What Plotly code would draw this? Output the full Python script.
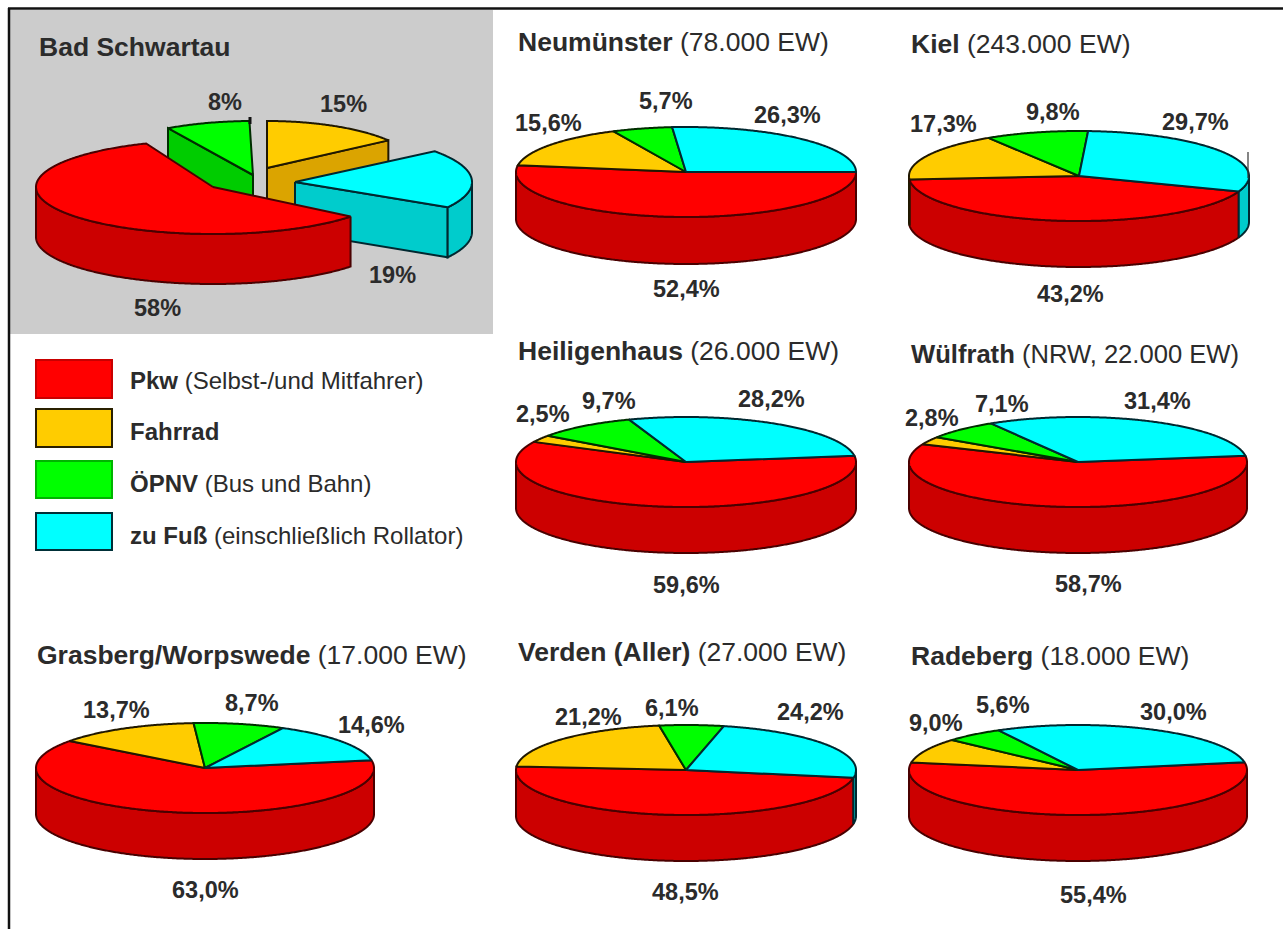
import numpy as np
import plotly.graph_objects as go

# Modal split per town, in percent; the slices run clockwise in this order.
towns = ["Bad Schwartau", "Neumünster", "Kiel", "Heiligenhaus", "Wülfrath",
         "Grasberg/Worpswede", "Verden (Aller)", "Radeberg"]
town_notes = ["", "(78.000 EW)", "(243.000 EW)", "(26.000 EW)", "(NRW, 22.000 EW)",
              "(17.000 EW)", "(27.000 EW)", "(18.000 EW)"]
pkw = [58, 52.4, 43.2, 59.6, 58.7, 63.0, 48.5, 55.4]
fahrrad = [15, 15.6, 17.3, 2.5, 2.8, 13.7, 21.2, 9.0]
oepnv = [8, 5.7, 9.8, 9.7, 7.1, 8.7, 6.1, 5.6]
zu_fuss = [19, 26.3, 29.7, 28.2, 31.4, 14.6, 24.2, 30.0]

legend_bold = ["Pkw", "Fahrrad", "ÖPNV", "zu Fuß"]
legend_note = ["(Selbst-/und Mitfahrer)", "", "(Bus und Bahn)", "(einschließlich Rollator)"]

FACE = ["#ff0000", "#ffcc00", "#00ff00", "#00ffff"]
SIDE = ["#cc0000", "#dba400", "#00cc00", "#00cccc"]
EDGE = ["#4a0000", "#201800", "#002e00", "#002830"]
TEXT = "#2b2b2b"
FONT = "Liberation Sans"

# Pie geometry: centre x, centre y, rx, ry, depth, angle where the Pkw slice starts
# (degrees clockwise from the right-hand point of the ellipse).
PIE_GEOMETRY = {
    "Neumünster": (686, 172, 170, 45, 47, 0),
    "Kiel": (1079, 176, 170, 45, 46, 20),
    "Heiligenhaus": (686, 462, 170, 45, 46, -8),
    "Wülfrath": (1078, 462, 169, 45, 46, -8),
    "Grasberg/Worpswede": (205, 768, 169, 45, 46, -10),
    "Verden (Aller)": (686, 770, 170, 45, 46, 10),
    "Radeberg": (1078, 770, 169, 45, 46, -10),
}

# The pulled-apart pie: one (cx, cy, rx, ry, start) per slice, same order as the data.
EXPLODED_SLICES = [
    (213, 187, 177, 47, 39),
    (267, 168, 150, 47, 270),
    (253, 175, 170, 54, 240),
    (295, 182, 177, 50, -38),
]
EXPLODED_DEPTH = 50
EXPLODED_DRAW_ORDER = [2, 1, 3, 0]

# Centres of the value labels: Pkw, Fahrrad, ÖPNV, zu Fuß for every town.
VALUE_LABEL_POS = {
    "Bad Schwartau": [(157, 308), (343, 104), (225, 102), (392, 275)],
    "Neumünster": [(686, 289), (548, 123), (666, 101), (787, 115)],
    "Kiel": [(1070, 294), (943, 124), (1053, 112), (1195, 122)],
    "Heiligenhaus": [(686, 585), (543, 414), (609, 401), (771, 399)],
    "Wülfrath": [(1088, 584), (932, 418), (1002, 404), (1157, 401)],
    "Grasberg/Worpswede": [(205, 890), (116, 710), (252, 703), (371, 725)],
    "Verden (Aller)": [(685, 892), (588, 717), (672, 708), (810, 712)],
    "Radeberg": [(1093, 895), (936, 723), (1003, 705), (1173, 712)],
}
TITLE_POS = {
    "Bad Schwartau": (37, 47), "Neumünster": (516, 42), "Kiel": (909, 44),
    "Heiligenhaus": (516, 351), "Wülfrath": (909, 354),
    "Grasberg/Worpswede": (35, 655), "Verden (Aller)": (516, 652), "Radeberg": (909, 656),
}
TITLE_SIZE = {"Wülfrath": 25.6}
SWATCH_ROWS = [(360, 398), (409, 447), (461, 498), (513, 550)]
LEGEND_TEXT_Y = [380, 431, 483, 535]

fig = go.Figure()


def polygon(xs, ys, fill, edge, width=2):
    fig.add_trace(go.Scatter(x=xs, y=ys, mode="lines", fill="toself", fillcolor=fill,
                             line=dict(color=edge, width=width, simplify=False),
                             hoverinfo="skip", showlegend=False))


def arc(cx, cy, rx, ry, a0, a1):
    t = np.radians(np.linspace(a0, a1, max(int(abs(a1 - a0)) * 2, 2) + 1))
    return cx + rx * np.cos(t), cy + ry * np.sin(t)


def outer_wall(cx, cy, rx, ry, depth, a0, a1, cat):
    # Only the stretch of rim on the viewer's side (0..180 degrees, mod 360) shows.
    for turn in (-360, 0, 360):
        lo, hi = max(a0, turn), min(a1, turn + 180)
        if hi > lo:
            x, y = arc(cx, cy, rx, ry, lo, hi)
            polygon(np.r_[x, x[::-1], x[0]], np.r_[y, y[::-1] + depth, y[0]],
                    SIDE[cat], EDGE[cat])


def top_face(cx, cy, rx, ry, a0, a1, cat):
    x, y = arc(cx, cy, rx, ry, a0, a1)
    polygon(np.r_[cx, x, cx], np.r_[cy, y, cy], FACE[cat], EDGE[cat])


def cut_wall(cx, cy, rx, ry, depth, angle, cat):
    x, y = arc(cx, cy, rx, ry, angle, angle)
    polygon([cx, x[0], x[0], cx, cx], [cy, y[0], y[0] + depth, cy + depth, cy],
            SIDE[cat], EDGE[cat])


def text(x, y, s, size, anchor="center"):
    fig.add_annotation(x=x, y=y, text=s, showarrow=False, xanchor=anchor, yanchor="middle",
                       font=dict(family=FONT, size=size, color=TEXT))


def fmt(town_index, v):
    return f"{v:.0f}%" if town_index == 0 else f"{v:.1f}%".replace(".", ",")


# Background panel behind the first pie and the page frame
fig.add_shape(type="rect", x0=10, x1=493, y0=10, y1=334, fillcolor="#cccccc",
              line_width=0, layer="below")
fig.add_shape(type="line", x0=9, x1=9, y0=8, y1=929, line=dict(color="#111111", width=2.5))
fig.add_shape(type="line", x0=8, x1=1283, y0=8.5, y1=8.5, line=dict(color="#111111", width=2.5))

for i, town in enumerate(towns):
    values = [pkw[i], fahrrad[i], oepnv[i], zu_fuss[i]]
    spans = [v * 3.6 for v in values]

    if town == "Bad Schwartau":
        for cat in EXPLODED_DRAW_ORDER:
            cx, cy, rx, ry, a0 = EXPLODED_SLICES[cat]
            a1 = a0 + spans[cat]
            if cat == 1:
                cut_wall(cx, cy, rx, ry, EXPLODED_DEPTH, a1, cat)
            elif cat == 2:
                cut_wall(cx, cy, rx, ry, EXPLODED_DEPTH, a0, cat)
            elif cat == 3:
                cut_wall(cx, cy, rx, ry, EXPLODED_DEPTH, a1, cat)
            outer_wall(cx, cy, rx, ry, EXPLODED_DEPTH, a0, a1, cat)
            top_face(cx, cy, rx, ry, a0, a1, cat)
    else:
        cx, cy, rx, ry, depth, start = PIE_GEOMETRY[town]
        a = start
        for cat, span in enumerate(spans):
            outer_wall(cx, cy, rx, ry, depth, a, a + span, cat)
            a += span
        a = start
        for cat, span in enumerate(spans):
            top_face(cx, cy, rx, ry, a, a + span, cat)
            a += span

    for v, (lx, ly) in zip(values, VALUE_LABEL_POS[town]):
        text(lx, ly, f"<b>{fmt(i, v)}</b>", 23.5)
    tx, ty = TITLE_POS[town]
    note = f" {town_notes[i]}" if town_notes[i] else ""
    text(tx, ty, f"<b>{town}</b>{note}", TITLE_SIZE.get(town, 26.5), "left")

# Small stray strokes on the Schwartau and Kiel pies
fig.add_shape(type="line", x0=250, x1=250, y0=117, y1=124, line=dict(color="#111111", width=3))
fig.add_shape(type="line", x0=1248, x1=1248, y0=152, y1=178, line=dict(color="#333333", width=1.2))

# Legend swatches and labels
for cat, (y0, y1) in enumerate(SWATCH_ROWS):
    fig.add_shape(type="rect", x0=36, x1=112, y0=y0, y1=y1, fillcolor=FACE[cat],
                  line=dict(color=["#c80000", "#2a2000", "#00b400", "#003038"][cat], width=2))
    note = f" {legend_note[cat]}" if legend_note[cat] else ""
    text(128, LEGEND_TEXT_Y[cat], f"<b>{legend_bold[cat]}</b>{note}", 24, "left")

fig.update_layout(
    width=1283, height=929, margin=dict(l=0, r=0, t=0, b=0),
    paper_bgcolor="white", plot_bgcolor="white", showlegend=False,
    xaxis=dict(range=[0, 1283], visible=False, fixedrange=True),
    yaxis=dict(range=[929, 0], visible=False, fixedrange=True),
)
fig.write_html("out.html", config={"displayModeBar": False})
